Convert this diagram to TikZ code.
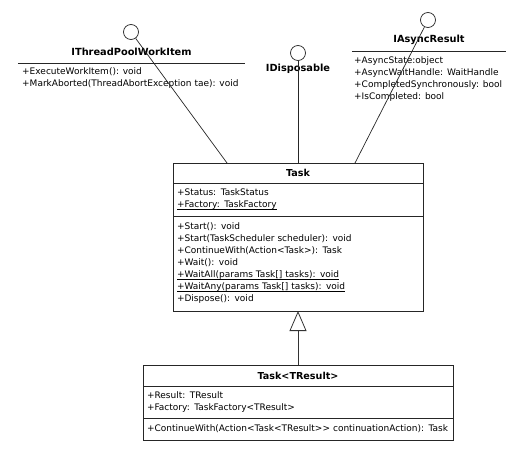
\documentclass[tikz,border=0pt]{standalone}
\usepackage{fontspec}
\setmainfont{DejaVu Sans}[Ligatures=TeXOff]
\usetikzlibrary{arrows.meta}
\newcommand{\staticMember}[1]{\underline{\smash{#1}}}
\tikzstyle{ball} = [
 circle,
 draw=black!85,
 fill=white,
 line width=0.7pt,
 minimum size=15pt,
 inner sep=0pt
]
\tikzstyle{ifaceTitle} = [
 font=\bfseries\fontsize{9.8}{11}\selectfont,
 inner sep=0pt,
 minimum height=22pt
]
\tikzstyle{members} = [
 anchor=west,
 align=left,
 inner sep=0pt,
 font=\fontsize{9}{12}\selectfont
]
\tikzstyle{compartment} = [
 rectangle,
 draw=black!85,
 line width=0.9pt,
 outer sep=0pt,
 inner xsep=4pt,
 inner ysep=0pt,
 anchor=north west,
 align=left,
 font=\fontsize{9}{12}\selectfont
]
\tikzstyle{classTitle} = [
 compartment,
 align=center,
 font=\bfseries\fontsize{9.6}{11}\selectfont
]
\tikzstyle{lollipop} = [draw=black!85, line width=0.7pt]
\tikzstyle{inherit} = [
 draw=black!80,
 line width=0.8pt,
 -{Triangle[open, length=20pt, width=17pt, fill=white]}
]

\begin{document}
\begin{tikzpicture}[x=1pt, y=-1pt]
  \useasboundingbox (0,0) rectangle (515,452);
  % interfaces
  \node [ball] (workItemBall) at (131,32) {};
  \node [ifaceTitle, minimum width=227pt] (workItem) at (131.5,52) {IThreadPoolWorkItem};
  \draw [lollipop] (workItem.south west) -- (workItem.south east);
  \node [members] (workItemOps) at (22,78) {+ExecuteWorkItem(): void \\
    +MarkAborted(ThreadAbortException tae): void};

  \node [ball] (disposableBall) at (298,53) {};
  \node [ifaceTitle, minimum height=0pt] (disposable) at (298,69) {IDisposable};

  \node [ball] (asyncBall) at (428,20) {};
  \node [ifaceTitle, minimum width=154pt] (async) at (429,40) {IAsyncResult};
  \draw [lollipop] (async.south west) -- (async.south east);
  \node [members] (asyncProps) at (354,79.5) {+AsyncState:object \\
    +AsyncWaitHandle: WaitHandle \\
    +CompletedSynchronously: bool \\
    +IsCompleted: bool};

  % Task
  \node [classTitle, text width=242pt, minimum height=20pt] (task) at (173,163) {Task};
  \node [compartment, text width=242pt, minimum height=33pt] (taskAttrs) at (task.south west) {+Status: TaskStatus \\
    \staticMember{+Factory: TaskFactory}};
  \node [compartment, text width=242pt, minimum height=95pt] (taskOps) at (taskAttrs.south west) {+Start(): void \\
    +Start(TaskScheduler scheduler): void \\
    +ContinueWith(Action<Task>): Task \\
    +Wait(): void \\
    \staticMember{+WaitAll(params Task[] tasks): void} \\
    \staticMember{+WaitAny(params Task[] tasks): void} \\
    +Dispose(): void};

  % Task<TResult>
  \node [classTitle, text width=302pt, minimum height=21pt] (taskResult) at (143,365) {Task<TResult>};
  \node [compartment, text width=302pt, minimum height=32pt] (taskResultAttrs) at (taskResult.south west) {+Result: TResult \\
    +Factory: TaskFactory<TResult>};
  \node [compartment, text width=302pt, minimum height=22pt] (taskResultOps) at (taskResultAttrs.south west) {+ContinueWith(Action<Task<TResult>> continuationAction): Task};

  % connectors
  \coordinate (workItemEnd) at (227,163);
  \coordinate (asyncEnd) at (355,163);
  \draw [lollipop] (workItemBall) -- (workItemEnd);
  \draw [lollipop] (disposableBall) -- (disposableBall |- task.north);
  \draw [lollipop] (asyncBall) -- (asyncEnd);
  \draw [inherit] (taskResult.north) -- (taskOps.south);
\end{tikzpicture}
\end{document}
